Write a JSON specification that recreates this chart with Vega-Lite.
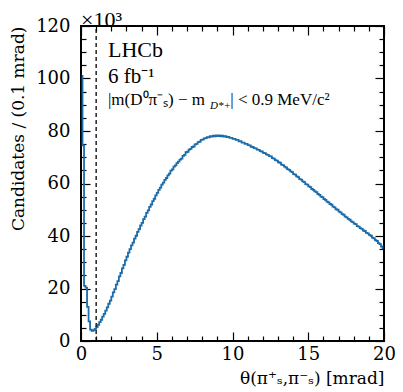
{
  "$schema": "https://vega.github.io/schema/vega-lite/v6.json",
  "width": 303,
  "height": 315,
  "autosize": {"type": "none"},
  "padding": {"left": 81, "top": 26, "right": 19, "bottom": 51},
  "background": "white",
  "title": {"text": "×10³", "anchor": "start", "frame": "group", "font": "Liberation Serif", "fontSize": 22, "fontWeight": "normal", "color": "black", "offset": 3, "dy": 18},
  "config": {
    "view": {"stroke": "black", "strokeWidth": 2},
    "font": "Liberation Serif",
    "text": {"font": "Liberation Serif"},
    "axis": {"grid": false, "domain": false, "labelColor": "black", "titleColor": "black", "tickColor": "black", "labelOverlap": false}
  },
  "datasets": {
    "hist": [
      {"theta": 0.05, "candidates": 101.0}, {"theta": 0.15, "candidates": 74.5}, {"theta": 0.25, "candidates": 21.0}, {"theta": 0.35, "candidates": 20.3}, {"theta": 0.45, "candidates": 13.0},
      {"theta": 0.55, "candidates": 7.5}, {"theta": 0.65, "candidates": 4.3}, {"theta": 0.75, "candidates": 3.9}, {"theta": 0.85, "candidates": 4.1}, {"theta": 0.95, "candidates": 4.6},
      {"theta": 1.05, "candidates": 5.3}, {"theta": 1.15, "candidates": 6.2}, {"theta": 1.25, "candidates": 7.2}, {"theta": 1.35, "candidates": 8.1}, {"theta": 1.45, "candidates": 9.3},
      {"theta": 1.55, "candidates": 10.3}, {"theta": 1.65, "candidates": 11.6}, {"theta": 1.75, "candidates": 12.8}, {"theta": 1.85, "candidates": 14.2}, {"theta": 1.95, "candidates": 15.4},
      {"theta": 2.05, "candidates": 16.9}, {"theta": 2.15, "candidates": 18.5}, {"theta": 2.25, "candidates": 19.8}, {"theta": 2.35, "candidates": 21.5}, {"theta": 2.45, "candidates": 22.8},
      {"theta": 2.55, "candidates": 24.6}, {"theta": 2.65, "candidates": 25.9}, {"theta": 2.75, "candidates": 27.7}, {"theta": 2.85, "candidates": 29.0}, {"theta": 2.95, "candidates": 30.7},
      {"theta": 3.05, "candidates": 32.1}, {"theta": 3.15, "candidates": 33.7}, {"theta": 3.25, "candidates": 35.0}, {"theta": 3.35, "candidates": 36.4}, {"theta": 3.45, "candidates": 37.5},
      {"theta": 3.55, "candidates": 39.0}, {"theta": 3.65, "candidates": 40.1}, {"theta": 3.75, "candidates": 41.6}, {"theta": 3.85, "candidates": 42.6}, {"theta": 3.95, "candidates": 44.0},
      {"theta": 4.05, "candidates": 45.0}, {"theta": 4.15, "candidates": 46.4}, {"theta": 4.25, "candidates": 47.4}, {"theta": 4.35, "candidates": 48.8}, {"theta": 4.45, "candidates": 49.8},
      {"theta": 4.55, "candidates": 51.1}, {"theta": 4.65, "candidates": 52.0}, {"theta": 4.75, "candidates": 53.3}, {"theta": 4.85, "candidates": 54.2}, {"theta": 4.95, "candidates": 55.5},
      {"theta": 5.05, "candidates": 56.4}, {"theta": 5.15, "candidates": 57.6}, {"theta": 5.25, "candidates": 58.4}, {"theta": 5.35, "candidates": 59.6}, {"theta": 5.45, "candidates": 60.3},
      {"theta": 5.55, "candidates": 61.4}, {"theta": 5.65, "candidates": 62.1}, {"theta": 5.75, "candidates": 63.1}, {"theta": 5.85, "candidates": 63.8}, {"theta": 5.95, "candidates": 64.9},
      {"theta": 6.05, "candidates": 65.4}, {"theta": 6.15, "candidates": 66.4}, {"theta": 6.25, "candidates": 66.9}, {"theta": 6.35, "candidates": 67.8}, {"theta": 6.45, "candidates": 68.3},
      {"theta": 6.55, "candidates": 69.1}, {"theta": 6.65, "candidates": 69.5}, {"theta": 6.75, "candidates": 70.5}, {"theta": 6.85, "candidates": 70.9}, {"theta": 6.95, "candidates": 71.9},
      {"theta": 7.05, "candidates": 72.1}, {"theta": 7.15, "candidates": 72.9}, {"theta": 7.25, "candidates": 73.2}, {"theta": 7.35, "candidates": 73.9}, {"theta": 7.45, "candidates": 74.1},
      {"theta": 7.55, "candidates": 74.9}, {"theta": 7.65, "candidates": 75.1}, {"theta": 7.75, "candidates": 75.8}, {"theta": 7.85, "candidates": 75.9}, {"theta": 7.95, "candidates": 76.6},
      {"theta": 8.05, "candidates": 76.7}, {"theta": 8.15, "candidates": 77.2}, {"theta": 8.25, "candidates": 77.3}, {"theta": 8.35, "candidates": 77.7}, {"theta": 8.45, "candidates": 77.6},
      {"theta": 8.55, "candidates": 78.0}, {"theta": 8.65, "candidates": 77.9}, {"theta": 8.75, "candidates": 78.2}, {"theta": 8.85, "candidates": 78.0}, {"theta": 8.95, "candidates": 78.3},
      {"theta": 9.05, "candidates": 78.1}, {"theta": 9.15, "candidates": 78.3}, {"theta": 9.25, "candidates": 78.0}, {"theta": 9.35, "candidates": 78.2}, {"theta": 9.45, "candidates": 77.9},
      {"theta": 9.55, "candidates": 78.0}, {"theta": 9.65, "candidates": 77.7}, {"theta": 9.75, "candidates": 77.8}, {"theta": 9.85, "candidates": 77.4}, {"theta": 9.95, "candidates": 77.4},
      {"theta": 10.05, "candidates": 77.0}, {"theta": 10.15, "candidates": 77.0}, {"theta": 10.25, "candidates": 76.6}, {"theta": 10.35, "candidates": 76.6}, {"theta": 10.45, "candidates": 76.1},
      {"theta": 10.55, "candidates": 76.1}, {"theta": 10.65, "candidates": 75.6}, {"theta": 10.75, "candidates": 75.6}, {"theta": 10.85, "candidates": 75.1}, {"theta": 10.95, "candidates": 75.1},
      {"theta": 11.05, "candidates": 74.6}, {"theta": 11.15, "candidates": 74.5}, {"theta": 11.25, "candidates": 74.0}, {"theta": 11.35, "candidates": 73.9}, {"theta": 11.45, "candidates": 73.5},
      {"theta": 11.55, "candidates": 73.4}, {"theta": 11.65, "candidates": 72.9}, {"theta": 11.75, "candidates": 72.8}, {"theta": 11.85, "candidates": 72.3}, {"theta": 11.95, "candidates": 72.2},
      {"theta": 12.05, "candidates": 71.7}, {"theta": 12.15, "candidates": 71.6}, {"theta": 12.25, "candidates": 71.1}, {"theta": 12.35, "candidates": 70.9}, {"theta": 12.45, "candidates": 70.4},
      {"theta": 12.55, "candidates": 70.3}, {"theta": 12.65, "candidates": 69.7}, {"theta": 12.75, "candidates": 69.5}, {"theta": 12.85, "candidates": 68.9}, {"theta": 12.95, "candidates": 68.7},
      {"theta": 13.05, "candidates": 68.1}, {"theta": 13.15, "candidates": 67.9}, {"theta": 13.25, "candidates": 67.2}, {"theta": 13.35, "candidates": 67.0}, {"theta": 13.45, "candidates": 66.4},
      {"theta": 13.55, "candidates": 66.1}, {"theta": 13.65, "candidates": 65.5}, {"theta": 13.75, "candidates": 65.2}, {"theta": 13.85, "candidates": 64.6}, {"theta": 13.95, "candidates": 64.3},
      {"theta": 14.05, "candidates": 63.6}, {"theta": 14.15, "candidates": 63.4}, {"theta": 14.25, "candidates": 62.7}, {"theta": 14.35, "candidates": 62.4}, {"theta": 14.45, "candidates": 61.7},
      {"theta": 14.55, "candidates": 61.5}, {"theta": 14.65, "candidates": 60.8}, {"theta": 14.75, "candidates": 60.5}, {"theta": 14.85, "candidates": 59.8}, {"theta": 14.95, "candidates": 59.6},
      {"theta": 15.05, "candidates": 58.9}, {"theta": 15.15, "candidates": 58.6}, {"theta": 15.25, "candidates": 57.9}, {"theta": 15.35, "candidates": 57.6}, {"theta": 15.45, "candidates": 57.0},
      {"theta": 15.55, "candidates": 56.7}, {"theta": 15.65, "candidates": 56.0}, {"theta": 15.75, "candidates": 55.7}, {"theta": 15.85, "candidates": 55.0}, {"theta": 15.95, "candidates": 54.8},
      {"theta": 16.05, "candidates": 54.1}, {"theta": 16.15, "candidates": 53.8}, {"theta": 16.25, "candidates": 53.1}, {"theta": 16.35, "candidates": 52.8}, {"theta": 16.45, "candidates": 52.2},
      {"theta": 16.55, "candidates": 51.9}, {"theta": 16.65, "candidates": 51.2}, {"theta": 16.75, "candidates": 50.9}, {"theta": 16.85, "candidates": 50.2}, {"theta": 16.95, "candidates": 50.0},
      {"theta": 17.05, "candidates": 49.3}, {"theta": 17.15, "candidates": 49.0}, {"theta": 17.25, "candidates": 48.3}, {"theta": 17.35, "candidates": 48.1}, {"theta": 17.45, "candidates": 47.4},
      {"theta": 17.55, "candidates": 47.1}, {"theta": 17.65, "candidates": 46.5}, {"theta": 17.75, "candidates": 46.2}, {"theta": 17.85, "candidates": 45.6}, {"theta": 17.95, "candidates": 45.3},
      {"theta": 18.05, "candidates": 44.7}, {"theta": 18.15, "candidates": 44.5}, {"theta": 18.25, "candidates": 43.8}, {"theta": 18.35, "candidates": 43.6}, {"theta": 18.45, "candidates": 43.0},
      {"theta": 18.55, "candidates": 42.7}, {"theta": 18.65, "candidates": 42.1}, {"theta": 18.75, "candidates": 41.9}, {"theta": 18.85, "candidates": 41.2}, {"theta": 18.95, "candidates": 41.0},
      {"theta": 19.05, "candidates": 40.4}, {"theta": 19.15, "candidates": 40.1}, {"theta": 19.25, "candidates": 39.4}, {"theta": 19.35, "candidates": 39.1}, {"theta": 19.45, "candidates": 38.4},
      {"theta": 19.55, "candidates": 38.1}, {"theta": 19.65, "candidates": 37.3}, {"theta": 19.75, "candidates": 36.9}, {"theta": 19.85, "candidates": 36.0}, {"theta": 19.95, "candidates": 35.4}
    ],
    "annotation": [{"label": "annotation"}]
  },
  "layer": [
    {
      "data": {"name": "hist"},
      "mark": {"type": "line", "interpolate": "step", "color": "#1b6ca8", "strokeWidth": 1.8},
      "encoding": {
        "x": {"field": "theta", "type": "quantitative", "scale": {"domain": [0, 20], "nice": false, "zero": false},
          "axis": {"orient": "bottom", "values": [0, 5, 10, 15, 20], "ticks": false, "labelFlush": false, "labelFontSize": 18, "labelPadding": 4,
            "labelFont": "DejaVu Serif", "titleFont": "DejaVu Serif", "labelColor": "black", "titleColor": "black",
            "title": "θ(π⁺ₛ,π⁻ₛ) [mrad]", "titleAnchor": "end", "titleFontSize": 17, "titleFontWeight": "normal", "titlePadding": 7}},
        "y": {"field": "candidates", "type": "quantitative", "scale": {"domain": [0, 120], "nice": false},
          "axis": {"orient": "left", "values": [0, 20, 40, 60, 80, 100, 120], "ticks": false, "labelFlush": false, "labelFontSize": 18, "labelPadding": 11,
            "labelFont": "DejaVu Serif", "titleFont": "DejaVu Serif", "labelColor": "black", "titleColor": "black",
            "title": "Candidates / (0.1 mrad)", "titleAnchor": "end", "titleFontSize": 17, "titleFontWeight": "normal", "titlePadding": 8}}
      }
    },
    {
      "data": {"name": "annotation"},
      "mark": {"type": "rule", "strokeDash": [4, 3], "color": "black", "strokeWidth": 1.3},
      "encoding": {
        "x": {"datum": 1.0, "type": "quantitative",
          "axis": {"orient": "bottom", "values": [0, 5, 10, 15, 20], "labels": false, "tickSize": -9, "tickWidth": 1.2, "title": null}},
        "y": {"datum": 0, "type": "quantitative",
          "axis": {"orient": "left", "values": [0, 20, 40, 60, 80, 100, 120], "labels": false, "tickSize": -9, "tickWidth": 1.2, "title": null}},
        "y2": {"datum": 120}
      }
    },
    {
      "data": {"name": "annotation"},
      "mark": {"type": "text", "text": "LHCb", "align": "left", "baseline": "alphabetic", "fontSize": 22, "color": "black"},
      "encoding": {
        "x": {"datum": 1.78, "type": "quantitative",
          "axis": {"orient": "bottom", "values": [1, 2, 3, 4, 6, 7, 8, 9, 11, 12, 13, 14, 16, 17, 18, 19], "labels": false, "tickSize": -5, "tickWidth": 1.2, "title": null}},
        "y": {"datum": 108.2, "type": "quantitative",
          "axis": {"orient": "left", "values": [5, 10, 15, 25, 30, 35, 45, 50, 55, 65, 70, 75, 85, 90, 95, 105, 110, 115], "labels": false, "tickSize": -5, "tickWidth": 1.2, "title": null}}
      }
    },
    {
      "data": {"name": "annotation"},
      "mark": {"type": "text", "text": "6 fb⁻¹", "align": "left", "baseline": "alphabetic", "fontSize": 21, "color": "black"},
      "encoding": {
        "x": {"datum": 1.78, "type": "quantitative",
          "axis": {"orient": "top", "values": [0, 5, 10, 15, 20], "labels": false, "tickSize": -9, "tickWidth": 1.2, "title": null}},
        "y": {"datum": 98.3, "type": "quantitative",
          "axis": {"orient": "right", "values": [0, 20, 40, 60, 80, 100, 120], "labels": false, "tickSize": -9, "tickWidth": 1.2, "title": null}}
      }
    },
    {
      "data": {"name": "annotation"},
      "mark": {"type": "text", "text": "|m(D⁰π⁻ₛ) − m", "align": "left", "baseline": "alphabetic", "fontSize": 17, "color": "black"},
      "encoding": {
        "x": {"datum": 1.78, "type": "quantitative",
          "axis": {"orient": "top", "values": [1, 2, 3, 4, 6, 7, 8, 9, 11, 12, 13, 14, 16, 17, 18, 19], "labels": false, "tickSize": -5, "tickWidth": 1.2, "title": null}},
        "y": {"datum": 89.9, "type": "quantitative",
          "axis": {"orient": "right", "values": [5, 10, 15, 25, 30, 35, 45, 50, 55, 65, 70, 75, 85, 90, 95, 105, 110, 115], "labels": false, "tickSize": -5, "tickWidth": 1.2, "title": null}}
      }
    },
    {
      "data": {"name": "annotation"},
      "mark": {"type": "text", "text": "D*+", "align": "left", "baseline": "alphabetic", "fontSize": 11, "fontStyle": "italic", "color": "black", "dy": 4},
      "encoding": {
        "x": {"datum": 8.52, "type": "quantitative", "axis": null},
        "y": {"datum": 89.9, "type": "quantitative", "axis": null}
      }
    },
    {
      "data": {"name": "annotation"},
      "mark": {"type": "text", "text": "| < 0.9 MeV/c²", "align": "left", "baseline": "alphabetic", "fontSize": 17, "color": "black"},
      "encoding": {
        "x": {"datum": 9.85, "type": "quantitative", "axis": null},
        "y": {"datum": 89.9, "type": "quantitative", "axis": null}
      }
    }
  ],
  "resolve": {"axis": {"x": "independent", "y": "independent"}}
}
